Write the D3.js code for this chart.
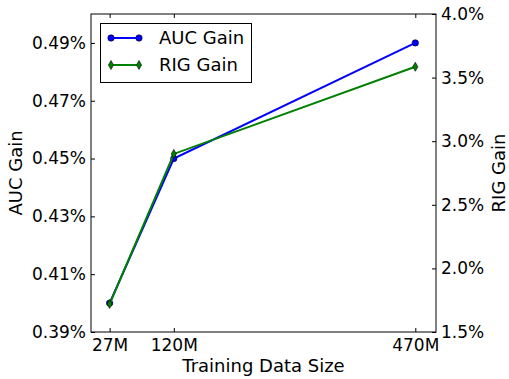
<!DOCTYPE html>
<html>
<head>
<meta charset="utf-8">
<script src="https://cdnjs.cloudflare.com/ajax/libs/d3/7.8.5/d3.min.js"></script>
<style>
  body { margin:0; background:#fff; }
  text { font-family:"DejaVu Sans", sans-serif; }
</style>
</head>
<body>
<div id="body"></div>
<script>
//DATA
var sizes = [27, 120, 470]; // training data size, millions
var sizeLabels = ["27M", "120M", "470M"];
var aucGain = [0.400, 0.450, 0.490]; // %
var rigGain = [1.72, 2.90, 3.585]; // %
var aucTicks = [0.39, 0.41, 0.43, 0.45, 0.47, 0.49];
var rigTicks = [1.5, 2.0, 2.5, 3.0, 3.5, 4.0];

var width = 509;
var height = 379;
var m = {left:91, right:436, top:14, bottom:332};
var fs = 17; // tick labels
var fl = 18; // axis labels + legend

var svg = d3.select("#body").append("svg")
  .attr("width", width)
  .attr("height", height);

svg.append("rect")
  .attr("width", width)
  .attr("height", height)
  .attr("fill", "#fff");

//---SCALES
var x = d3.scaleLinear().domain([0, 500]).range([m.left, m.right]);
var yL = d3.scaleLinear().domain([0.39, 0.50]).range([m.bottom, m.top]);
var yR = d3.scaleLinear().domain([1.5, 4.0]).range([m.bottom, m.top]);

//---AXES (ticks inward, like old matplotlib)
var tick = 4;
function styleAxis(g){
  g.selectAll(".domain").remove();
  g.selectAll("line").attr("stroke", "#000").attr("stroke-width", 1);
  g.selectAll("text").attr("font-size", fs).attr("fill", "#000");
}

svg.append("g")
  .attr("transform", "translate(0," + m.bottom + ")")
  .call(d3.axisBottom(x).tickValues(sizes).tickFormat(function(d,i){ return sizeLabels[i]; })
    .tickSizeInner(-tick).tickSizeOuter(0).tickPadding(7))
  .call(styleAxis);

svg.append("g")
  .attr("transform", "translate(0," + m.top + ")")
  .call(d3.axisTop(x).tickValues(sizes).tickFormat("").tickSizeInner(-tick).tickSizeOuter(0))
  .call(styleAxis);

svg.append("g")
  .attr("transform", "translate(" + m.left + ",0)")
  .call(d3.axisLeft(yL).tickValues(aucTicks).tickFormat(function(d){ return d3.format(".2f")(d) + "%"; })
    .tickSizeInner(-tick).tickSizeOuter(0).tickPadding(5))
  .call(styleAxis);

svg.append("g")
  .attr("transform", "translate(" + m.right + ",0)")
  .call(d3.axisRight(yR).tickValues(rigTicks).tickFormat(function(d){ return d3.format(".1f")(d) + "%"; })
    .tickSizeInner(-tick).tickSizeOuter(0).tickPadding(5))
  .call(styleAxis);

//frame
svg.append("rect")
  .attr("x", m.left).attr("y", m.top)
  .attr("width", m.right - m.left).attr("height", m.bottom - m.top)
  .attr("fill", "none").attr("stroke", "#000").attr("stroke-width", 1);

//---LABELS
svg.append("text")
  .attr("x", (m.left + m.right) / 2).attr("y", 372)
  .attr("text-anchor", "middle").attr("font-size", fl)
  .text("Training Data Size");

svg.append("text")
  .attr("transform", "translate(22," + (m.top + m.bottom) / 2 + ") rotate(-90)")
  .attr("text-anchor", "middle").attr("font-size", fl)
  .text("AUC Gain");

svg.append("text")
  .attr("transform", "translate(505," + (m.top + m.bottom) / 2 + ") rotate(-90)")
  .attr("text-anchor", "middle").attr("font-size", fl)
  .text("RIG Gain");

//---SERIES
var diamond = "M0,-4.5L2.6,0L0,4.5L-2.6,0Z";

function drawSeries(vals, y, color, marker){
  var pts = sizes.map(function(s,i){ return [x(s), y(vals[i])]; });
  svg.append("path")
    .attr("d", d3.line()(pts))
    .attr("fill", "none").attr("stroke", color).attr("stroke-width", 2);
  pts.forEach(function(p){ drawMarker(p[0], p[1], color, marker); });
}

function drawMarker(px, py, color, marker){
  if (marker == "o") {
    svg.append("circle").attr("cx", px).attr("cy", py).attr("r", 3.2)
      .attr("fill", color).attr("stroke", "#000").attr("stroke-width", 0.6);
  } else {
    svg.append("path").attr("d", diamond)
      .attr("transform", "translate(" + px + "," + py + ")")
      .attr("fill", color).attr("stroke", "#000").attr("stroke-width", 0.6);
  }
}

drawSeries(aucGain, yL, "#0000ff", "o");
drawSeries(rigGain, yR, "#008000", "d");

//---LEGEND
var leg = svg.append("g");
leg.append("rect")
  .attr("x", 100.5).attr("y", 23.5).attr("width", 151).attr("height", 59)
  .attr("fill", "#fff").attr("stroke", "#000").attr("stroke-width", 1);

var items = [
  {name:"AUC Gain", color:"#0000ff", marker:"o", y:38},
  {name:"RIG Gain", color:"#008000", marker:"d", y:65}
];
items.forEach(function(it){
  leg.append("line")
    .attr("x1", 111).attr("x2", 139).attr("y1", it.y).attr("y2", it.y)
    .attr("stroke", it.color).attr("stroke-width", 2);
  drawMarker(111, it.y, it.color, it.marker);
  drawMarker(139, it.y, it.color, it.marker);
  leg.append("text")
    .attr("x", 159).attr("y", it.y).attr("dy", "0.35em")
    .attr("font-size", fl).text(it.name);
});
</script>
</body>
</html>
